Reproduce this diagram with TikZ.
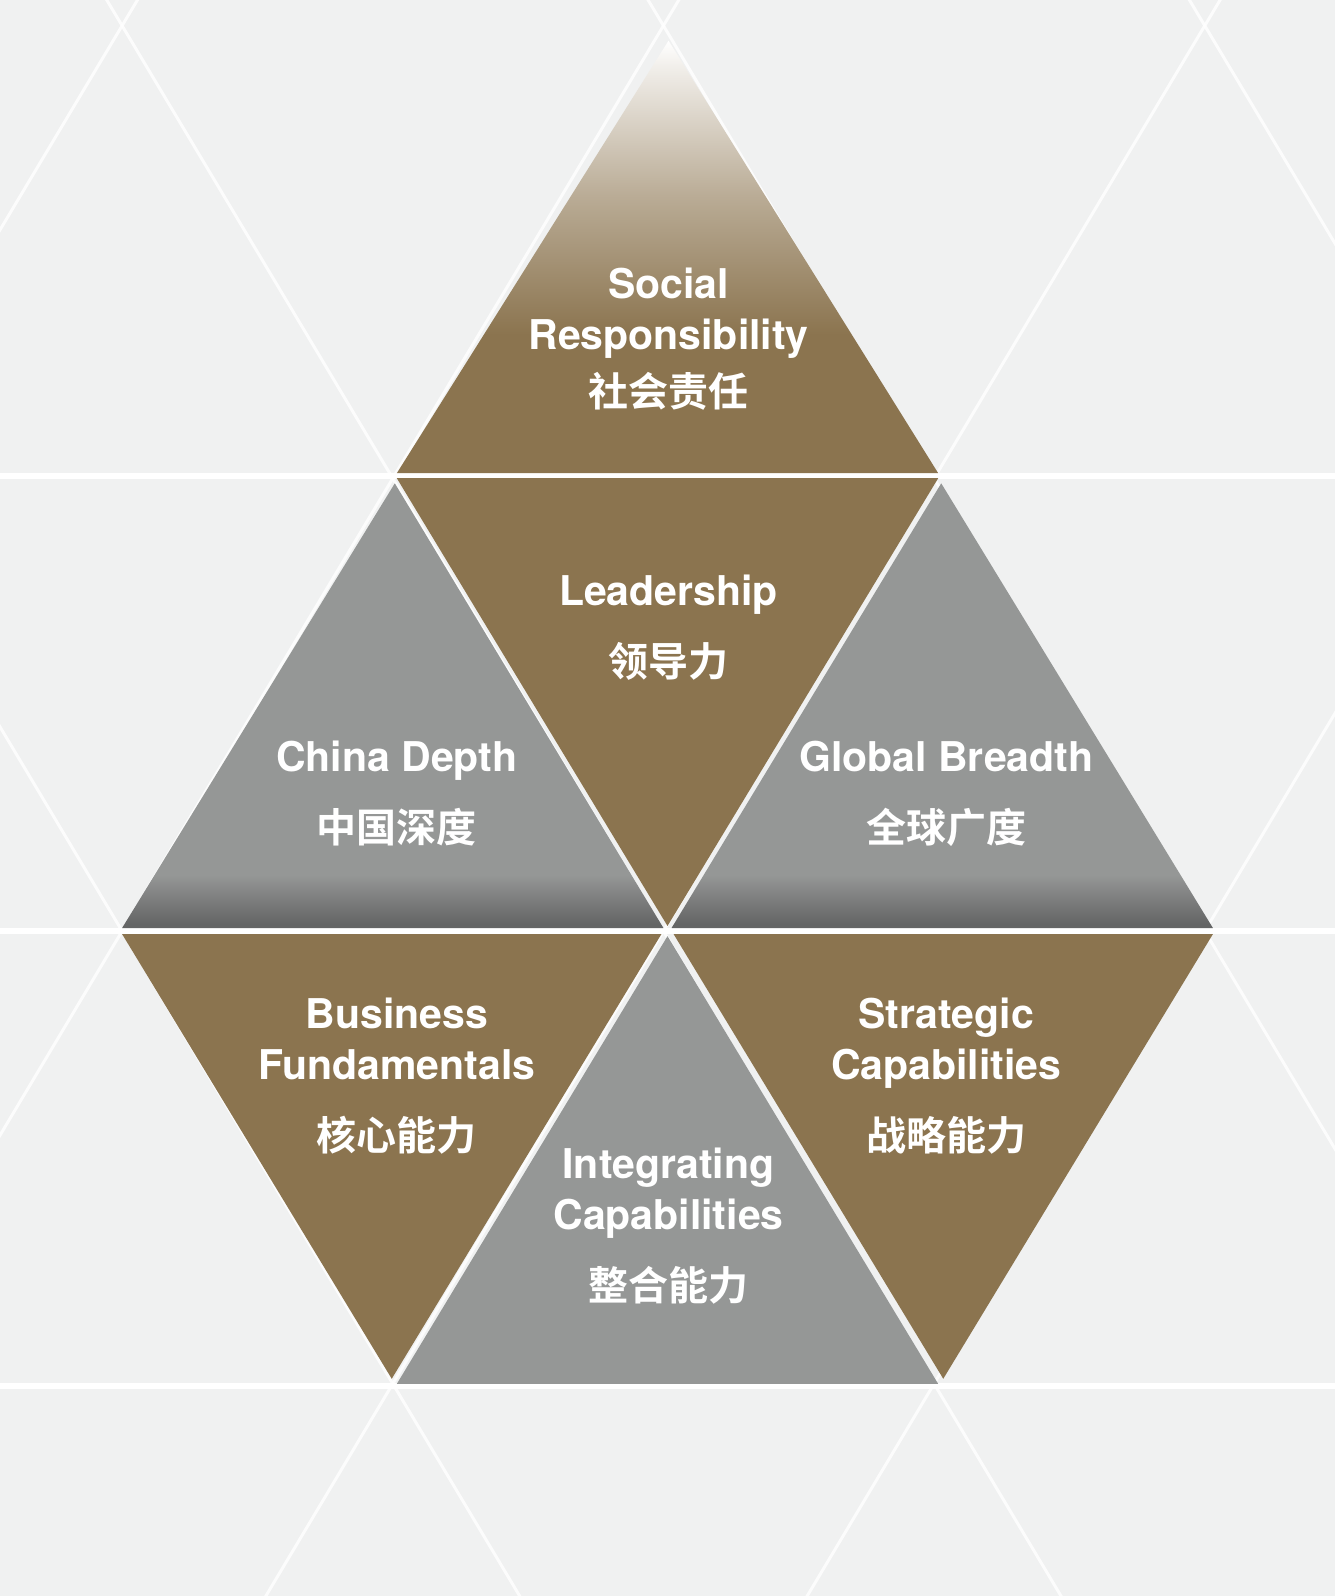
\documentclass[tikz,border=0pt]{standalone}
\usepackage{fontspec}
\setmainfont{TeX Gyre Heros}
\newfontfamily\cjk{Noto Sans CJK SC}[BoldFont={* Bold}]
\usetikzlibrary{shadings}
\definecolor{brn}{RGB}{139,116,79}
\definecolor{gry}{RGB}{149,151,150}
\definecolor{gdk}{RGB}{100,101,101}
\definecolor{bgc}{RGB}{240,241,241}
\pgfdeclareverticalshading{topsh}{100bp}{color(0bp)=(brn); color(41bp)=(brn); color(57bp)=(brn!60!white); color(72bp)=(brn!12!white); color(75bp)=(white); color(100bp)=(white)}
\pgfdeclareverticalshading{grysh}{100bp}{color(0bp)=(gdk); color(25.5bp)=(gdk); color(31bp)=(gry); color(100bp)=(gry)}
\tikzset{
 lbl/.style={text=white,font=\bfseries\fontsize{41}{51}\selectfont,align=center},
 bt/.style={fill=brn},
 gt/.style={fill=gry},
}
\newcommand{\zh}[1]{{\cjk\bfseries\fontsize{40}{51}\selectfont #1}}
\begin{document}
\begin{tikzpicture}[x=1.0175pt,y=-1.0175pt]
\useasboundingbox (0,0) rectangle (1312,1568.5);
\clip (0,0) rectangle (1312,1568.5);
\fill[bgc] (0,0) rectangle (1312,1568.5);
\foreach \y in {468,915,1362}{\draw[white,line width=6] (0,\y) -- (1312,\y);}
\foreach \k in {-3,...,4}{
 \draw[white,opacity=0.8,line width=3] (120+532*\k-800,915-1338) -- (120+532*\k+800,915+1338);
 \draw[white,opacity=0.8,line width=3] (120+532*\k+800,915-1338) -- (120+532*\k-800,915+1338);}
% top triangle
\shade[shading=topsh] (657,40) -- (922,465) -- (390,465) -- cycle;
% leadership
\path[bt] (390,470) -- (922,470) -- (656,910) -- cycle;
% china/global
\shade[shading=grysh] (388,475) -- (652,912) -- (120,912) -- cycle;
\shade[shading=grysh] (925,475) -- (1192,912) -- (660,912) -- cycle;
% bottom row
\path[bt] (120,918) -- (650,918) -- (385,1355) -- cycle;
\path[bt] (662,918) -- (1192,918) -- (927,1355) -- cycle;
\path[gt] (656,920) -- (922,1360) -- (390,1360) -- cycle;
% labels
\node[lbl] (sr) at (657,333) {Social\\Responsibility\\[6pt]\zh{社会责任}};
\node[lbl] (ld) at (657,617) {Leadership\\[20pt]\zh{领导力}};
\node[lbl] (cd) at (390,780) {China Depth\\[20pt]\zh{中国深度}};
\node[lbl] (gb) at (930,780) {Global Breadth\\[20pt]\zh{全球广度}};
\node[lbl] (bf) at (390,1058) {Business\\Fundamentals\\[20pt]\zh{核心能力}};
\node[lbl] (sc) at (930,1058) {Strategic\\Capabilities\\[20pt]\zh{战略能力}};
\node[lbl] (ic) at (657,1205) {Integrating\\Capabilities\\[20pt]\zh{整合能力}};
\end{tikzpicture}
\end{document}
